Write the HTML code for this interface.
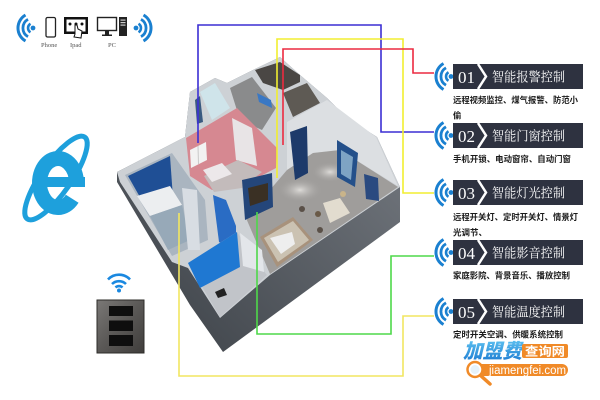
<!DOCTYPE html>
<html><head><meta charset="utf-8"><style>
html,body{margin:0;padding:0;background:#fff;width:600px;height:400px;overflow:hidden}
svg{display:block}
.t{font-family:"Liberation Serif","Noto Serif CJK SC",serif;fill:#fff}
.d{font-family:"Liberation Sans","Noto Sans CJK SC",sans-serif;font-weight:700;font-size:8.3px;fill:#1a1a1a}
.n{font-family:"Liberation Serif",serif;font-size:17px;fill:#fff}
.lb{font-family:"Liberation Serif",serif;font-size:6.5px;fill:#555}
</style></head><body>
<svg width="600" height="400" viewBox="0 0 600 400" xmlns="http://www.w3.org/2000/svg">
<defs>
<linearGradient id="ext" x1="1" y1="0" x2="0" y2="1"><stop offset="0" stop-color="#7a7f86"/><stop offset="1" stop-color="#3a3f45"/></linearGradient>
<linearGradient id="pan" x1="0" y1="0" x2="1" y2="1"><stop offset="0" stop-color="#7a7876"/><stop offset="0.5" stop-color="#5a5856"/><stop offset="1" stop-color="#3f3d3b"/></linearGradient>
<linearGradient id="jm" x1="0" y1="0" x2="0" y2="1"><stop offset="0" stop-color="#5cc0f0"/><stop offset="1" stop-color="#1a78d0"/></linearGradient>
<radialGradient id="spot" cx="0.5" cy="0.5" r="0.5"><stop offset="0" stop-color="#e4e2df" stop-opacity="0.9"/><stop offset="1" stop-color="#a3a19f" stop-opacity="0"/></radialGradient>
<g id="wf">
<path d="M-2.5,-4.3 A5,5 0 0 0 -2.5,4.3" fill="none" stroke="#1a80d0" stroke-width="2.6"/>
<path d="M-5,-8.7 A10,10 0 0 0 -5,8.7" fill="none" stroke="#1a80d0" stroke-width="2.8"/>
<path d="M-7.5,-13 A15,15 0 0 0 -7.5,13" fill="none" stroke="#1a80d0" stroke-width="3"/>
<circle cx="0" cy="0" r="2.4" fill="#1a80d0"/>
</g>
</defs>

<!-- top-left device icons -->
<use href="#wf" transform="translate(33,28)"/>
<use href="#wf" transform="translate(136,28) scale(-1,1)"/>
<rect x="46" y="17.5" width="9.5" height="19.5" rx="1.5" fill="none" stroke="#222" stroke-width="1.3"/>
<rect x="64" y="17" width="24" height="17" fill="#111"/>
<rect x="66.5" y="19.5" width="19" height="12" fill="#fff"/>
<circle cx="70" cy="24" r="1.5" fill="#111"/><circle cx="76" cy="24" r="1.5" fill="#111"/><circle cx="82" cy="24" r="1.5" fill="#111"/>
<path d="M75,25 L75,34 L74,37 L81,38 L82,31 L78,29 L77,25 Z" fill="#fff" stroke="#111" stroke-width="1"/>
<rect x="97.5" y="17.5" width="19" height="13" fill="none" stroke="#222" stroke-width="1.4"/>
<rect x="105" y="30.5" width="4" height="4" fill="#222"/><rect x="102" y="34.5" width="10" height="1.5" fill="#222"/>
<rect x="119" y="17" width="8" height="19" fill="#222"/>
<rect x="120.5" y="19.5" width="5" height="1.2" fill="#ccc"/><rect x="120.5" y="22" width="5" height="1.2" fill="#ccc"/><rect x="120.5" y="24.5" width="5" height="1.2" fill="#ccc"/>
<text class="lb" x="41" y="47">Phone</text>
<text class="lb" x="70" y="47">Ipad</text>
<text class="lb" x="108" y="47">PC</text>

<!-- IE logo -->
<ellipse cx="56" cy="178" rx="50" ry="15" fill="none" stroke="#1ea0dc" stroke-width="5" transform="rotate(-55 56 178)"/>
<path d="M76.5,183 A18.5,24.5 0 1 0 72.2,198.7" fill="none" stroke="#1ea0dc" stroke-width="15"/>
<rect x="44" y="177" width="41" height="10" fill="#1ea0dc"/>

<!-- switch panel -->
<g fill="none" stroke="#1a88e0" stroke-width="2.6">
<path d="M112,284 A10,10 0 0 1 126,284"/>
<path d="M108,279.5 A15,15 0 0 1 130,279.5"/>
<path d="M115.5,287.5 A5,5 0 0 1 122.5,287.5"/>
</g>
<circle cx="119" cy="290.5" r="2" fill="#1a88e0"/>
<rect x="97" y="300" width="47" height="53" fill="url(#pan)" stroke="#2e2c2a" stroke-width="1"/>
<rect x="109" y="306" width="24" height="10" fill="#0e0e0e"/>
<rect x="109" y="320.5" width="24" height="10.5" fill="#0e0e0e"/>
<rect x="109" y="335" width="24" height="11" fill="#0e0e0e"/>

<!-- house -->
<polygon points="117,172 185,137 190,92 215,78 227,83 253,70 280,57 300,75 327,98 347,118 377,137 400,187 400,222 223,352 190,305 117,182" fill="url(#ext)"/>
<polygon points="117,172 185,137 190,92 215,78 227,83 253,70 280,57 300,75 327,98 347,118 377,137 400,187 270,275 220,318 188,268 172,262 120,182" fill="#cdd1d5"/>
<!-- bathroom -->
<polygon points="200,92 215,83 230,108 212,120" fill="#cfe4ea"/>
<polygon points="195,100 200,96 203,122 197,124" fill="#3a5a80"/>
<!-- kitchen -->
<polygon points="230,88 252,77 276,108 262,130 240,120" fill="#8a8b8c"/>
<polygon points="257,93 271,100 272,108 259,102" fill="#3a78c4"/>
<polygon points="255,70 280,62 300,75 300,82 283,90 263,83" fill="#4a4744"/>
<polygon points="283,93 307,83 320,103 293,117" fill="#5e5a54"/>
<!-- pink bedroom -->
<polygon points="186,138 237,108 277,148 276,168 242,186 212,190 190,176" fill="#d68891"/>
<polygon points="232,118 252,128 257,166 236,160" fill="#e8e4e6"/>
<polygon points="204,176 238,160 262,172 242,188 214,192" fill="#c3bbbb"/>
<polygon points="190,150 206,142 207,160 191,168" fill="#f2f2f2"/>
<line x1="198" y1="146" x2="198.5" y2="164" stroke="#c8c8c8" stroke-width="1"/>
<polygon points="203,170 222,163 232,174 212,182" fill="#ece8ea"/>
<!-- left bedroom -->
<polygon points="125,175 172,153 205,200 208,240 172,256" fill="#aab5c0"/>
<polygon points="128,176 170,156 173,198 145,206" fill="#1f4f95"/>
<polygon points="137,196 170,186 182,205 150,216" fill="#eceef0"/>
<polygon points="150,216 182,205 190,240 168,250" fill="#97a9b8"/>
<polygon points="182,188 197,190 200,250 188,250" fill="#d8dde3"/>
<!-- blue hallway -->
<polygon points="213,195 226,200 236,226 236,252 219,242" fill="#2a6cc4"/>
<!-- living room -->
<polygon points="287,122 327,100 376,137 398,186 340,150 313,153 287,170" fill="#dcdfe2"/>
<polygon points="246,218 287,170 313,153 340,150 398,187 270,274" fill="#9f9d9b"/>
<ellipse cx="300" cy="190" rx="22" ry="12" fill="url(#spot)"/>
<ellipse cx="330" cy="172" rx="18" ry="10" fill="url(#spot)"/>
<polygon points="290,132 307,126 308,173 295,180" fill="#1d3a6a"/>
<polygon points="337,140 358,153 355,187 337,177" fill="#24508a"/>
<polygon points="341,150 353,157 351,180 341,174" fill="#7ea4c4"/>
<polygon points="364,174 378,178 379,201 366,199" fill="#2a4a80"/>
<polygon points="242,180 272,173 273,207 245,220" fill="#24467a"/>
<polygon points="248,188 268,183 268,200 250,206" fill="#3a3024"/>
<polygon points="260,237 293,217 313,240 277,267" fill="#a8927c"/>
<polygon points="264,238 293,221 309,240 278,262" fill="#cbc2b2"/>
<polygon points="270,238 292,232 295,244 281,254" fill="#eeeeee"/>
<polygon points="323,203 340,198 350,213 330,223" fill="#e2dccf"/>
<circle cx="318" cy="214" r="3" fill="#6a5a48"/><circle cx="343" cy="194" r="3" fill="#c9b48a"/>
<circle cx="302" cy="209" r="3" fill="#5a5048"/><circle cx="320" cy="230" r="3" fill="#5a5048"/>
<!-- small blue room -->
<polygon points="188,263 237,232 263,270 267,275 220,317" fill="#c1c4c9"/>
<polygon points="188,263 237,232 240,267 200,288" fill="#1f78d2"/>
<polygon points="240,233 262,250 264,272 243,266" fill="#e3e6ea"/>
<polygon points="215,292 224,288 227,295 218,298" fill="#222"/>

<!-- connector lines -->
<g fill="none" stroke-width="1.6">
<path d="M198,143 V25 H381 V132 H434" stroke="#3b2fd4"/>
<path d="M277,178 V39 H403 V193 H434" stroke="#f2ee30"/>
<path d="M283,145 V49 H413 V73 H434" stroke="#ec2a40"/>
<path d="M257,212 V334 H391 V256 H434" stroke="#4ed84a"/>
<path d="M179,213 V376 H403 V316 H434" stroke="#f2e660"/>
</g>

<!-- banners -->
<g>
<use href="#wf" transform="translate(451,76.5)"/>
<rect x="453" y="64" width="130" height="25" fill="#2e3240"/>
<path d="M478,64 L486,76.5 L478,89" fill="none" stroke="#fff" stroke-width="2.5"/>
<text class="n" x="458" y="83">01</text>
<text class="t" x="492" y="81.5" font-size="13" textLength="73" lengthAdjust="spacingAndGlyphs">智能报警控制</text>
<text class="d" x="453" y="103" textLength="125" lengthAdjust="spacingAndGlyphs">远程视频监控、煤气报警、防范小</text>
<text class="d" x="453" y="118.5">偷</text>
</g>
<g>
<use href="#wf" transform="translate(451,135.5)"/>
<rect x="453" y="123" width="130" height="25" fill="#2e3240"/>
<path d="M478,123 L486,135.5 L478,148" fill="none" stroke="#fff" stroke-width="2.5"/>
<text class="n" x="458" y="142">02</text>
<text class="t" x="492" y="140.5" font-size="13" textLength="73" lengthAdjust="spacingAndGlyphs">智能门窗控制</text>
<text class="d" x="453" y="162" textLength="118" lengthAdjust="spacingAndGlyphs">手机开锁、电动窗帘、自动门窗</text>
</g>
<g>
<use href="#wf" transform="translate(451,192.5)"/>
<rect x="453" y="180" width="130" height="25" fill="#2e3240"/>
<path d="M478,180 L486,192.5 L478,205" fill="none" stroke="#fff" stroke-width="2.5"/>
<text class="n" x="458" y="199">03</text>
<text class="t" x="492" y="197.5" font-size="13" textLength="73" lengthAdjust="spacingAndGlyphs">智能灯光控制</text>
<text class="d" x="453" y="220" textLength="125" lengthAdjust="spacingAndGlyphs">远程开关灯、定时开关灯、情景灯</text>
<text class="d" x="453" y="235.5" textLength="34" lengthAdjust="spacingAndGlyphs">光调节、</text>
</g>
<g>
<use href="#wf" transform="translate(451,252.5)"/>
<rect x="453" y="240" width="130" height="25" fill="#2e3240"/>
<path d="M478,240 L486,252.5 L478,265" fill="none" stroke="#fff" stroke-width="2.5"/>
<text class="n" x="458" y="259">04</text>
<text class="t" x="492" y="257.5" font-size="13" textLength="73" lengthAdjust="spacingAndGlyphs">智能影音控制</text>
<text class="d" x="453" y="278.5" textLength="117" lengthAdjust="spacingAndGlyphs">家庭影院、背景音乐、播放控制</text>
</g>
<g>
<use href="#wf" transform="translate(451,311.5)"/>
<rect x="453" y="299" width="130" height="25" fill="#2e3240"/>
<path d="M478,299 L486,311.5 L478,324" fill="none" stroke="#fff" stroke-width="2.5"/>
<text class="n" x="458" y="318">05</text>
<text class="t" x="492" y="316.5" font-size="13" textLength="73" lengthAdjust="spacingAndGlyphs">智能温度控制</text>
<text class="d" x="453" y="337.5" textLength="110" lengthAdjust="spacingAndGlyphs">定时开关空调、供暖系统控制</text>
</g>

<!-- watermark -->
<text x="463" y="358" font-family="Liberation Sans,'Noto Sans CJK SC',sans-serif" font-weight="900" font-size="20" font-style="italic" fill="url(#jm)" textLength="59" lengthAdjust="spacingAndGlyphs">加盟费</text>
<rect x="522" y="344" width="46" height="14" rx="2" fill="#f08a28"/>
<text x="525" y="355.5" font-family="Liberation Sans,'Noto Sans CJK SC',sans-serif" font-weight="700" font-size="12" fill="#fff" textLength="40" lengthAdjust="spacingAndGlyphs">查询网</text>
<rect x="468" y="364" width="100" height="12" rx="6" fill="#f08a28"/>
<text x="489" y="374" font-family="Liberation Sans,sans-serif" font-size="11.5" fill="#fff" textLength="77" lengthAdjust="spacingAndGlyphs">jiamengfei.com</text>
<line x1="480" y1="375" x2="490" y2="384" stroke="#f08a28" stroke-width="3.5" stroke-linecap="round"/>
<circle cx="475" cy="369.5" r="7.5" fill="#fff" stroke="#f08a28" stroke-width="2.5"/>
<circle cx="475" cy="369.5" r="4.5" fill="#e6f2fa"/>
</svg>
</body></html>
